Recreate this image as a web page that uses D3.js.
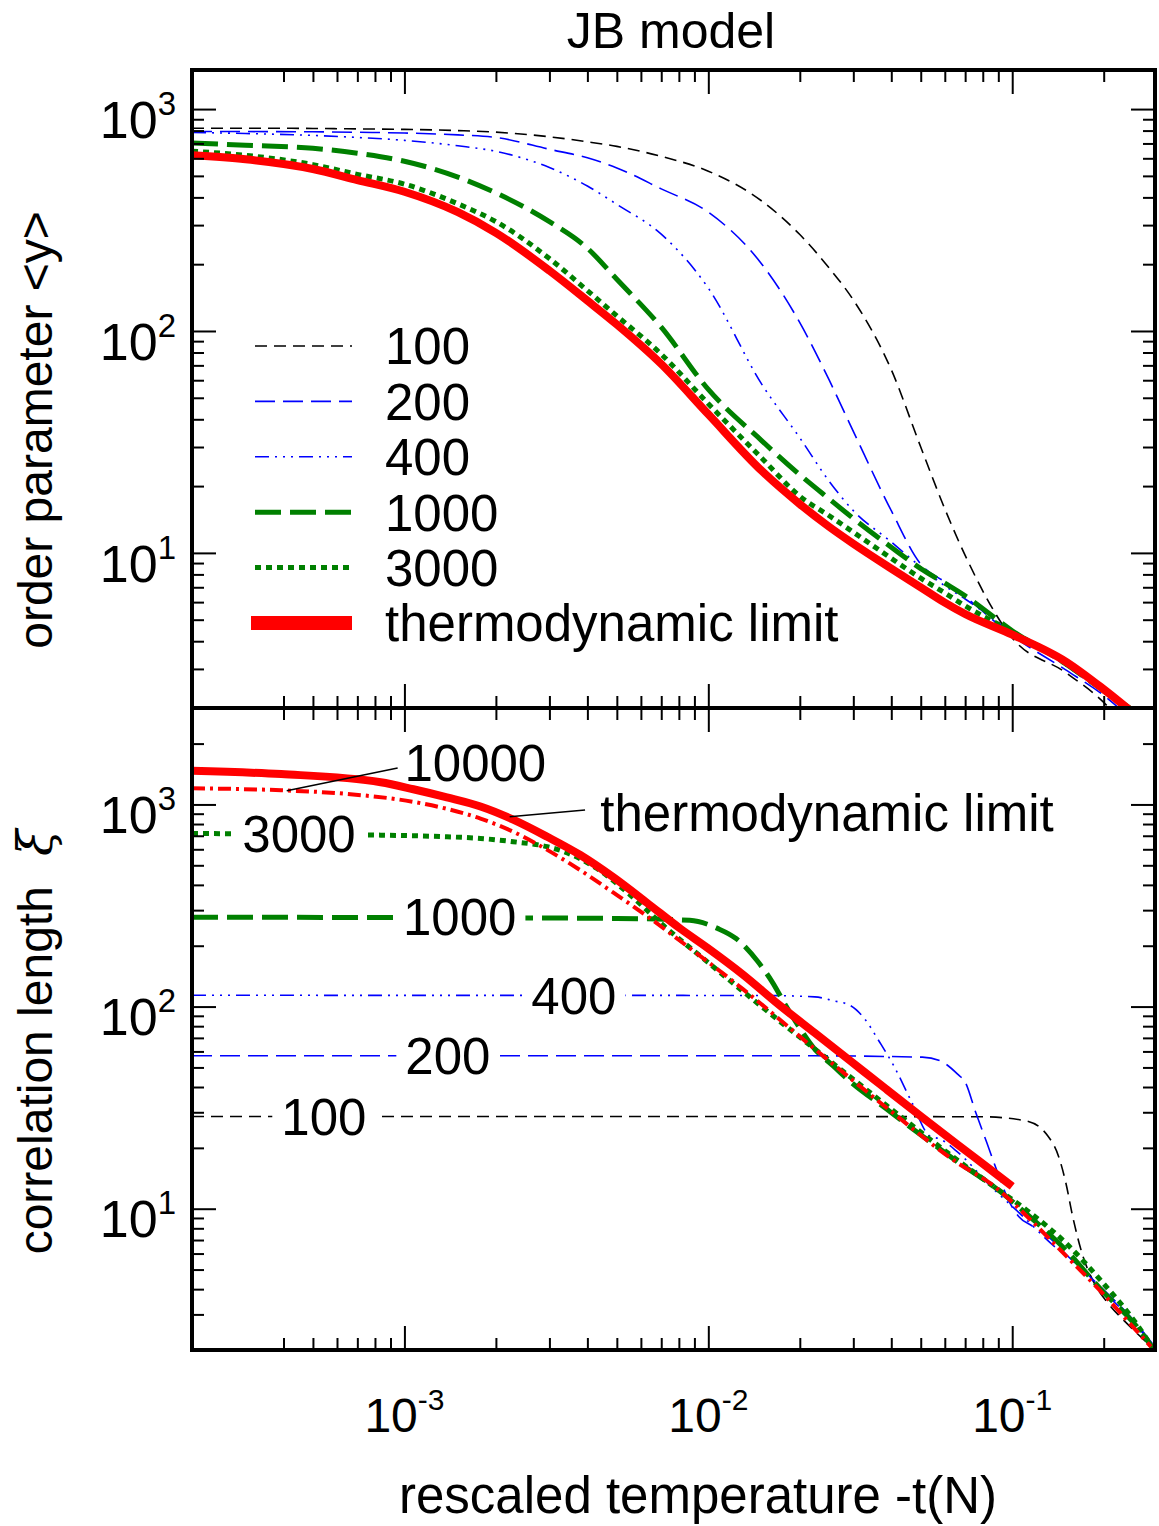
<!DOCTYPE html>
<html>
<head>
<meta charset="UTF-8" />
<script src="https://d3js.org/d3.v7.min.js"></script>
<style>
  body { margin: 0; background: #fff; }
  svg text { font-family: "Liberation Sans", Arial, sans-serif; fill: #000; }
</style>
<title>JB model</title>
</head>
<body>
<div id="chart"></div>
<script>
// ---- data ----
// top panel: order parameter <y> on a common grid of -t(N)
const tGrid = [2e-4, 3e-4, 5e-4, 7e-4, 1e-3, 1.5e-3, 2e-3, 3e-3, 4e-3, 5e-3, 7e-3, 1e-2,
  1.5e-2, 2e-2, 2.5e-2, 3e-2, 4e-2, 5e-2, 6e-2, 7e-2, 0.1, 0.15, 0.2, 0.25];
const orderN100 = [820, 820, 818, 814, 810, 800, 787, 750, 712, 679, 612, 525,
  385, 272, 192, 138, 66.9, 30, 15.8, 9.75, 4.14, 2.89, 2.12, 1.5];
const orderN200 = [793, 792, 790, 786, 780, 765, 745, 659, 603, 543, 437, 343,
  200, 109, 60, 35.3, 15.5, 8.9, 7.4, 6.33, 4.24, 2.97, 2.28, 1.75];
const orderN400 = [785, 776, 761, 745, 723, 683, 645, 545, 450, 372, 273, 156,
  57.5, 33, 21, 15.5, 11.2, 8.65, 7.1, 6.2, 4.37, 3.1, 2.35, 1.85];
const orderN1000 = [703, 687, 666, 632, 582, 494, 419, 311, 236, 171, 104, 54.5,
  32, 22.5, 17.5, 14.3, 10.6, 8.5, 7.3, 6.4, 4.46, 3.16, 2.39, 1.95];
const orderN3000 = [646, 619, 562, 508, 459, 374, 311, 212, 152, 117, 78.6, 47,
  26.7, 18.0, 14.7, 12.4, 9.45, 7.69, 6.6, 5.77, 4.41, 3.2, 2.4, 1.95];
const orderThermo = [619, 594, 537, 479, 424, 343, 277, 187, 137, 107, 71, 42.1,
  23.4, 16.6, 13.1, 11.0, 8.5, 7.0, 5.97, 5.3, 4.28, 3.24, 2.43, 1.9];

// bottom panel: correlation length, [-t(N), xi] pairs
const xiN100 = [[2e-4, 28.6], [1e-2, 28.6], [0.08, 28.5], [0.111, 27.2], [0.131, 22.9],
  [0.142, 18.2], [0.15, 13.5], [0.158, 9.2], [0.171, 5.8], [0.186, 4.3], [0.207, 3.4],
  [0.237, 2.73], [0.278, 2.17], [0.3, 1.95]];
const xiN200 = [[2e-4, 57.1], [0.02, 57.1], [0.0506, 56.2], [0.0579, 53.9], [0.0661, 46.3],
  [0.070, 42.3], [0.0758, 30.0], [0.0824, 21.3], [0.0895, 15.1], [0.097, 11.1],
  [0.105, 9.16], [0.117, 8.17], [0.138, 6.8], [0.145, 6.28], [0.2, 3.97], [0.25, 2.82],
  [0.3, 2.0]];
const xiN400 = [[2e-4, 113.7], [0.015, 113.5], [0.0224, 111.7], [0.0257, 107], [0.0294, 101],
  [0.0327, 86.9], [0.0366, 66.8], [0.0408, 50.8], [0.0467, 33.7], [0.0535, 22.9],
  [0.0579, 22.1], [0.0663, 19.0], [0.0868, 12.5], [0.105, 9.6], [0.1417, 6.28],
  [0.162, 5.42], [0.196, 3.98], [0.230, 3.16], [0.286, 2.17], [0.3, 1.98]];
const xiN1000 = [[2e-4, 277], [1e-3, 275.5], [5e-3, 273], [8.69e-3, 267], [0.01077, 243],
  [0.01234, 217], [0.01455, 167], [0.0162, 133], [0.0180, 101], [0.0201, 77.4],
  [0.0224, 61.6], [0.0257, 51], [0.0294, 42.4], [0.0386, 31.1], [0.0506, 22.9],
  [0.0663, 17.0], [0.0868, 12.9], [0.114, 9.16], [0.1496, 6.28], [0.196, 3.98],
  [0.257, 2.61], [0.29, 2.05]];
const xiN3000 = [[2e-4, 718], [8.36e-4, 705], [1.38e-3, 692], [1.78e-3, 679], [2.28e-3, 654],
  [2.95e-3, 618], [3.34e-3, 585], [4.30e-3, 482], [5.54e-3, 356], [7.11e-3, 252],
  [9.95e-3, 166], [0.0130, 119], [0.0171, 85.1], [0.0224, 61.7], [0.0294, 44.7],
  [0.0386, 32.4], [0.0506, 23.6], [0.0663, 17.3], [0.0868, 12.9], [0.114, 9.6],
  [0.1496, 6.8], [0.196, 4.4], [0.257, 2.68], [0.29, 2.05]];
const xiN10000 = [[2e-4, 1202], [3.93e-4, 1175], [6.5e-4, 1127], [1.07e-3, 1030],
  [1.38e-3, 951], [1.78e-3, 851], [2.28e-3, 733], [2.95e-3, 596], [3.79e-3, 473],
  [4.86e-3, 367], [6.27e-3, 281], [8.09e-3, 211], [0.0130, 122], [0.0224, 61.7],
  [0.0386, 31.6], [0.0663, 16.8], [0.0868, 13.0], [0.114, 8.91], [0.1496, 5.89],
  [0.196, 3.89], [0.257, 2.48], [0.286, 2.08]];
const xiThermo = [[2e-4, 1466], [3.93e-4, 1413], [8.36e-4, 1288], [1.07e-3, 1189],
  [1.38e-3, 1084], [1.78e-3, 977], [2.28e-3, 841], [2.95e-3, 692], [3.79e-3, 562],
  [4.86e-3, 437], [6.27e-3, 327], [8.09e-3, 243], [9.95e-3, 195], [0.0130, 144],
  [0.0171, 102], [0.0224, 74.1], [0.0294, 53.7], [0.0386, 38.9], [0.0506, 28.3],
  [0.0663, 20.7], [0.0868, 15.2], [0.1, 12.9]];

// legend / inline labels
const legendNames = ["100", "200", "400", "1000", "3000", "thermodynamic limit"];
const inlineNames = ["100", "200", "400", "1000", "3000"];
const inlineT = [5.43e-4, 1.39e-3, 3.61e-3, 1.52e-3, 4.5e-4];

// ticks
const xMajor = [1e-3, 1e-2, 1e-1];
const xMajorExp = ["-3", "-2", "-1"];
const xMinor = [4e-4, 5e-4, 6e-4, 7e-4, 8e-4, 9e-4,
  2e-3, 3e-3, 4e-3, 5e-3, 6e-3, 7e-3, 8e-3, 9e-3,
  2e-2, 3e-2, 4e-2, 5e-2, 6e-2, 7e-2, 8e-2, 9e-2, 0.2];
const yMajor = [10, 100, 1000];
const yMajorExp = ["1", "2", "3"];
const yMinorTop = [3, 4, 5, 6, 7, 8, 9, 20, 30, 40, 50, 60, 70, 80, 90,
  200, 300, 400, 500, 600, 700, 800, 900];
const yMinorBot = yMinorTop.concat([2000]);

// ---- layout ----
const w = 1159, h = 1526;
const L = 192, R = 1155, T1 = 70, M = 708, B2 = 1350;
const majLen = 24, minLen = 12;

const x = d3.scaleLog().domain([2e-4, 0.295]).range([L, R]);
const yTop = d3.scaleLog().domain([2, 1500]).range([M, T1]);
const yBot = d3.scaleLog().domain([2, 3000]).range([B2, M]);

const styles = {
  n100:   { color: "#000000", width: 1.6, dash: "12,7" },
  n200:   { color: "#0000ff", width: 1.6, dash: "20,8" },
  n400:   { color: "#0000ff", width: 1.6, dash: "14,6,2,6,2,6,2,6" },
  n1000:  { color: "#008000", width: 5, dash: "26,9" },
  n3000:  { color: "#008000", width: 5, dash: "6,5" },
  n10000: { color: "#ff0000", width: 4, dash: "13,5,3,5" },
  thermo: { color: "#ff0000", width: 8, dash: null }
};

const svg = d3.select("#chart").append("svg")
  .attr("width", w).attr("height", h)
  .style("background", "#fff");

const defs = svg.append("defs");
defs.append("clipPath").attr("id", "clipTop").append("rect")
  .attr("x", L).attr("y", T1).attr("width", R - L).attr("height", M - T1);
defs.append("clipPath").attr("id", "clipBot").append("rect")
  .attr("x", L).attr("y", M).attr("width", R - L).attr("height", B2 - M);

// ---- top panel curves ----
const topSeries = [
  { key: "n100", vals: orderN100 },
  { key: "n200", vals: orderN200 },
  { key: "n400", vals: orderN400 },
  { key: "n1000", vals: orderN1000 },
  { key: "n3000", vals: orderN3000 },
  { key: "thermo", vals: orderThermo }
];
const lineTop = d3.line()
  .x(d => x(d[0])).y(d => yTop(d[1]))
  .curve(d3.curveMonotoneX);

const gTop = svg.append("g").attr("clip-path", "url(#clipTop)");
topSeries.forEach(s => {
  const st = styles[s.key];
  gTop.append("path")
    .datum(tGrid.map((t, i) => [t, s.vals[i]]))
    .attr("d", lineTop)
    .attr("fill", "none")
    .attr("stroke", st.color)
    .attr("stroke-width", st.width)
    .attr("stroke-dasharray", st.dash)
    .attr("stroke-linejoin", "round");
});

// ---- bottom panel curves ----
const botSeries = [
  { key: "n100", vals: xiN100 },
  { key: "n200", vals: xiN200 },
  { key: "n400", vals: xiN400 },
  { key: "n1000", vals: xiN1000 },
  { key: "n3000", vals: xiN3000 },
  { key: "n10000", vals: xiN10000 },
  { key: "thermo", vals: xiThermo }
];
const lineBot = d3.line()
  .x(d => x(d[0])).y(d => yBot(d[1]))
  .curve(d3.curveMonotoneX);

const gBot = svg.append("g").attr("clip-path", "url(#clipBot)");
botSeries.forEach(s => {
  const st = styles[s.key];
  gBot.append("path")
    .datum(s.vals)
    .attr("d", lineBot)
    .attr("fill", "none")
    .attr("stroke", st.color)
    .attr("stroke-width", st.width)
    .attr("stroke-dasharray", st.dash)
    .attr("stroke-linejoin", "round");
});

// inline labels on the flat parts, white box hides the line behind
const bigFont = 51;
inlineNames.forEach((name, i) => {
  const s = botSeries[i];
  const cx = x(inlineT[i]);
  const cy = yBot(s.vals[0][1]);
  const g = svg.append("g");
  const txt = g.append("text")
    .attr("x", cx).attr("y", cy).attr("dy", "0.36em")
    .attr("text-anchor", "middle")
    .style("font-size", bigFont + "px")
    .text(name);
  const bb = txt.node().getBBox();
  g.insert("rect", "text")
    .attr("x", bb.x - 9).attr("y", bb.y)
    .attr("width", bb.width + 18).attr("height", bb.height)
    .attr("fill", "#fff");
});

// labels with leader lines
const leaderLabels = [
  { text: "10000", from: [4.1e-4, 1170], to: [9.5e-4, 1514], at: [1.0e-3, 1603] },
  { text: "thermodynamic limit", from: [2.22e-3, 869], to: [3.93e-3, 938], at: [4.41e-3, 916] }
];
leaderLabels.forEach(lb => {
  svg.append("line")
    .attr("x1", x(lb.from[0])).attr("y1", yBot(lb.from[1]))
    .attr("x2", x(lb.to[0])).attr("y2", yBot(lb.to[1]))
    .attr("stroke", "#000").attr("stroke-width", 1.6);
  svg.append("text")
    .attr("x", x(lb.at[0])).attr("y", yBot(lb.at[1])).attr("dy", "0.36em")
    .style("font-size", bigFont + "px")
    .text(lb.text);
});

// ---- legend (top panel) ----
const legX1 = 255, legX2 = 352, legTextX = 385, legY0 = 346, legStep = 55.4;
const legKeys = ["n100", "n200", "n400", "n1000", "n3000", "thermo"];
legendNames.forEach((name, i) => {
  const st = styles[legKeys[i]];
  const ly = legY0 + i * legStep;
  svg.append("line")
    .attr("x1", legKeys[i] === "thermo" ? legX1 - 4 : legX1).attr("x2", legX2)
    .attr("y1", ly).attr("y2", ly)
    .attr("stroke", st.color)
    .attr("stroke-width", legKeys[i] === "thermo" ? 14 : st.width)
    .attr("stroke-dasharray", st.dash);
  svg.append("text")
    .attr("x", legTextX).attr("y", ly).attr("dy", "0.36em")
    .style("font-size", bigFont + "px")
    .text(name);
});

// ---- ticks (inward, all sides) ----
function ticks(axisGen, scale, major, minor, transform) {
  const g = svg.append("g").attr("transform", transform);
  g.append("g").call(axisGen(scale).tickValues(major).tickSize(-majLen).tickFormat(""));
  g.append("g").call(axisGen(scale).tickValues(minor).tickSize(-minLen).tickFormat(""));
  g.selectAll(".domain").remove();
  g.selectAll("line").attr("stroke", "#000").attr("stroke-width", 2);
}
// top panel
ticks(d3.axisTop, x, xMajor, xMinor, `translate(0,${T1})`);
ticks(d3.axisBottom, x, xMajor, xMinor, `translate(0,${M})`);
ticks(d3.axisLeft, yTop, yMajor, yMinorTop, `translate(${L},0)`);
ticks(d3.axisRight, yTop, yMajor, yMinorTop, `translate(${R},0)`);
// bottom panel
ticks(d3.axisTop, x, xMajor, xMinor, `translate(0,${M})`);
ticks(d3.axisBottom, x, xMajor, xMinor, `translate(0,${B2})`);
ticks(d3.axisLeft, yBot, yMajor, yMinorBot, `translate(${L},0)`);
ticks(d3.axisRight, yBot, yMajor, yMinorBot, `translate(${R},0)`);

// frames
svg.append("rect").attr("x", L).attr("y", T1).attr("width", R - L).attr("height", M - T1)
  .attr("fill", "none").attr("stroke", "#000").attr("stroke-width", 4);
svg.append("rect").attr("x", L).attr("y", M).attr("width", R - L).attr("height", B2 - M)
  .attr("fill", "none").attr("stroke", "#000").attr("stroke-width", 4);

// ---- tick labels as 10^n ----
xMajor.forEach((v, i) => {
  const t = svg.append("text")
    .attr("x", x(v)).attr("y", 1432)
    .attr("text-anchor", "middle")
    .style("font-size", "48px");
  t.append("tspan").text("10");
  t.append("tspan").attr("dy", -22).style("font-size", "30px").text(xMajorExp[i]);
});
[yTop, yBot].forEach(sc => {
  yMajor.forEach((v, i) => {
    const t = svg.append("text")
      .attr("x", 176).attr("y", sc(v) + 10).attr("dy", "0.36em")
      .attr("text-anchor", "end")
      .style("font-size", "52px");
    t.append("tspan").text("10");
    t.append("tspan").attr("dy", -23).style("font-size", "33px").text(yMajorExp[i]);
  });
});

// ---- titles ----
svg.append("text")
  .attr("x", 671).attr("y", 48)
  .attr("text-anchor", "middle")
  .style("font-size", "50px")
  .text("JB model");

svg.append("text")
  .attr("x", 698).attr("y", 1513)
  .attr("text-anchor", "middle")
  .style("font-size", "51px")
  .text("rescaled temperature -t(N)");

svg.append("text")
  .attr("transform", "translate(52,430) rotate(-90)")
  .attr("text-anchor", "middle")
  .style("font-size", "48px")
  .text("order parameter <y>");

const yl = svg.append("text")
  .attr("transform", "translate(52,1042) rotate(-90)")
  .attr("text-anchor", "middle")
  .style("font-size", "48px");
yl.append("tspan").text("correlation length");
yl.append("tspan").attr("dx", 30).style("font-family", "'DejaVu Serif', serif")
  .style("font-style", "italic").text("ξ");
</script>
</body>
</html>
